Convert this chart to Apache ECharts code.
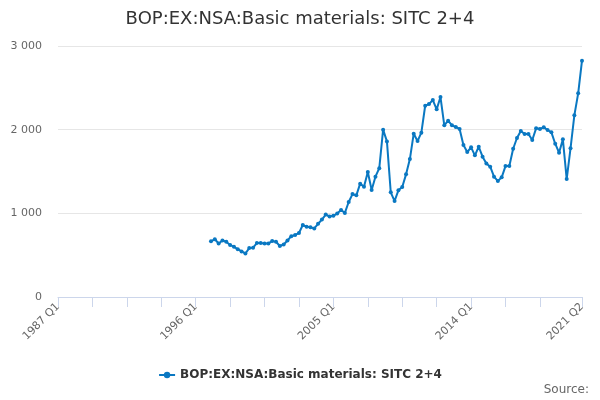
<!DOCTYPE html>
<html>
<head>
<meta charset="utf-8">
<script src="https://cdn.jsdelivr.net/npm/echarts@6/dist/echarts.min.js"></script>
<style>html,body{margin:0;padding:0;background:#fff}#c{width:600px;height:400px}</style>
</head>
<body>
<div id="c"></div>
<script>
// Quarter categories 1987 Q1 .. 2021 Q2
const firstYear = 1987, lastYear = 2021, lastQuarter = 2;
const categories = [];
for (let y = firstYear; y <= lastYear; y++) {
  for (let q = 1; q <= 4; q++) {
    if (y === lastYear && q > lastQuarter) break;
    categories.push(y + ' Q' + q);
  }
}
const seriesName = 'BOP:EX:NSA:Basic materials: SITC 2+4';
const firstDataQuarter = '1997 Q1';
const values = [
  665, 690, 640, 675, 660, 622, 600, 572, 545, 520, 585, 590, 645, 645, 638, 640,
  668, 660, 610, 627, 675, 727, 740, 765, 860, 840, 833, 820, 875, 925, 985, 962,
  970, 998, 1040, 1005, 1135, 1230, 1215, 1355, 1318, 1494, 1280, 1438, 1540, 2000, 1860, 1251,
  1147, 1275, 1314, 1466, 1649, 1952, 1864, 1964, 2286, 2306, 2354, 2243, 2390, 2052, 2107, 2052,
  2032, 2008, 1816, 1733, 1789, 1693, 1796, 1677, 1597, 1557, 1438, 1386, 1430, 1565, 1565, 1772,
  1900, 1984, 1948, 1948, 1876, 2016, 2008, 2028, 1996, 1968, 1832, 1725, 1884, 1410, 1777, 2171,
  2434, 2824
];
const yTicks = [0, 1000, 2000, 3000];

const startIdx = categories.indexOf(firstDataQuarter);
const seriesData = values.map((v, k) => [categories[startIdx + k], v]);
const lastIdx = categories.length - 1;

function fmt(v) { return String(v).replace(/\B(?=(\d{3})+(?!\d))/g, ' '); }

const chart = echarts.init(document.getElementById('c'), null, {renderer: 'canvas'});
chart.setOption({
  animation: false,
  backgroundColor: '#ffffff',
  textStyle: {fontFamily: 'DejaVu Sans'},
  title: {
    text: seriesName,
    left: 'center',
    top: 5,
    textStyle: {fontSize: 18, fontWeight: 'normal', color: '#333333', fontFamily: 'DejaVu Sans'}
  },
  grid: {left: 58, right: 18, top: 46, bottom: 103, containLabel: false},
  xAxis: {
    type: 'category',
    data: categories,
    boundaryGap: false,
    axisLine: {lineStyle: {color: '#ccd6eb'}},
    axisTick: {
      show: true,
      length: 10,
      lineStyle: {color: '#ccd6eb'},
      interval: (i) => (i % 9 === 0 && i < lastIdx - 5) || i === lastIdx
    },
    axisLabel: {
      rotate: 45,
      color: '#666666',
      fontSize: 11,
      margin: 8,
      interval: (i) => i % 36 === 0 || i === lastIdx
    },
    splitLine: {show: false}
  },
  yAxis: {
    type: 'value',
    min: yTicks[0],
    max: yTicks[yTicks.length - 1],
    interval: 1000,
    axisLine: {show: false},
    axisTick: {show: false},
    axisLabel: {color: '#666666', fontSize: 11, margin: 16, formatter: (v) => fmt(v)},
    splitLine: {lineStyle: {color: '#e6e6e6'}}
  },
  legend: {
    bottom: 14,
    left: 'center',
    itemWidth: 16,
    itemHeight: 8,
    textStyle: {fontSize: 12, fontWeight: 'bold', color: '#333333', fontFamily: 'DejaVu Sans'}
  },
  graphic: [{
    type: 'text',
    right: 11,
    bottom: 4,
    style: {text: 'Source:', fontSize: 12, fill: '#666666', fontFamily: 'DejaVu Sans'}
  }],
  series: [{
    name: seriesName,
    type: 'line',
    data: seriesData,
    symbol: 'circle',
    symbolSize: 4,
    showSymbol: true,
    showAllSymbol: true,
    lineStyle: {width: 2, color: '#0a78c2'},
    itemStyle: {color: '#0a78c2'},
    connectNulls: false
  }]
});
</script>
</body>
</html>
